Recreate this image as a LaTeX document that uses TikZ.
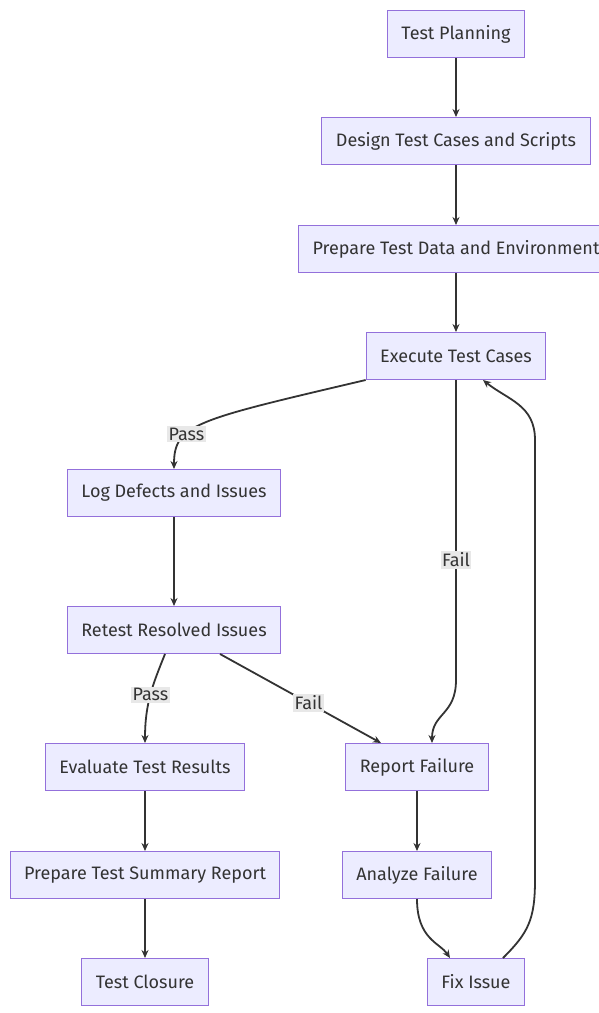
\documentclass[tikz,border=0pt]{standalone}
\usepackage{fontspec}
\setmainfont{Fira Sans}
\usetikzlibrary{arrows.meta}
\definecolor{boxfill}{HTML}{ECECFF}
\definecolor{boxline}{HTML}{9370DB}
\definecolor{edgeline}{HTML}{333333}
\definecolor{lblfill}{HTML}{E8E8E8}
\tikzset{
	stepbox/.style={draw=boxline,fill=boxfill,line width=1pt,text=edgeline,
		minimum height=47pt,inner xsep=14pt,font=\fontsize{18}{21}\selectfont},
	flow/.style={draw=edgeline,line width=1.8pt,-{Stealth[length=8pt,width=7pt]}},
	lbl/.style={fill=lblfill,text=edgeline,inner sep=1.5pt,font=\fontsize{18}{21}\selectfont}
}

\begin{document}
\begin{tikzpicture}[x=1pt,y=-1pt]
	\useasboundingbox (0,0) rectangle (599,1013);
	\node[stepbox] (plan) at (456,34) {Test Planning};
	\node[stepbox] (design) at (456,141) {Design Test Cases and Scripts};
	\node[stepbox] (prep) at (456,249) {Prepare Test Data and Environment};
	\node[stepbox] (exec) at (456,356) {Execute Test Cases};
	\node[stepbox] (log) at (174,493) {Log Defects and Issues};
	\node[stepbox] (retest) at (174,630) {Retest Resolved Issues};
	\node[stepbox] (eval) at (145,767) {Evaluate Test Results};
	\node[stepbox] (report) at (417,767) {Report Failure};
	\node[stepbox] (summary) at (145,875) {Prepare Test Summary Report};
	\node[stepbox] (analyze) at (417,875) {Analyze Failure};
	\node[stepbox] (closure) at (145,982) {Test Closure};
	\node[stepbox] (fix) at (476,982) {Fix Issue};

	\draw[flow] (plan) -- (design);
	\draw[flow] (design) -- (prep);
	\draw[flow] (prep) -- (exec);
	\draw[flow] (exec.south west) .. controls +(-170,40) and +(0,-45) .. node[lbl,pos=0.66] {Pass} (log.north);
	\draw[flow] (exec.south) -- ++(0,300) node[lbl,pos=0.6] {Fail} .. controls +(0,35) and +(0,-30) .. ([xshift=15pt]report.north);
	\draw[flow] (log) -- (retest);
	\draw[flow] ([xshift=-9pt]retest.south) .. controls +(-12,30) and +(0,-40) .. node[lbl,pos=0.5] {Pass} (eval.north);
	\draw[flow] ([xshift=46pt]retest.south) -- node[lbl,pos=0.55] {Fail} ([xshift=-36pt]report.north);
	\draw[flow] (eval) -- (summary);
	\draw[flow] (summary) -- (closure);
	\draw[flow] (report) -- (analyze);
	\draw[flow] (analyze.south) .. controls +(0,40) and +(-10,-15) .. ([xshift=-26pt]fix.north);
	\draw[flow] ([xshift=27pt]fix.north) .. controls +(25,-25) and +(0,40) .. (535,880) -- (535,440) .. controls +(0,-35) and +(25,20) .. ([xshift=27pt]exec.south);
\end{tikzpicture}
\end{document}
